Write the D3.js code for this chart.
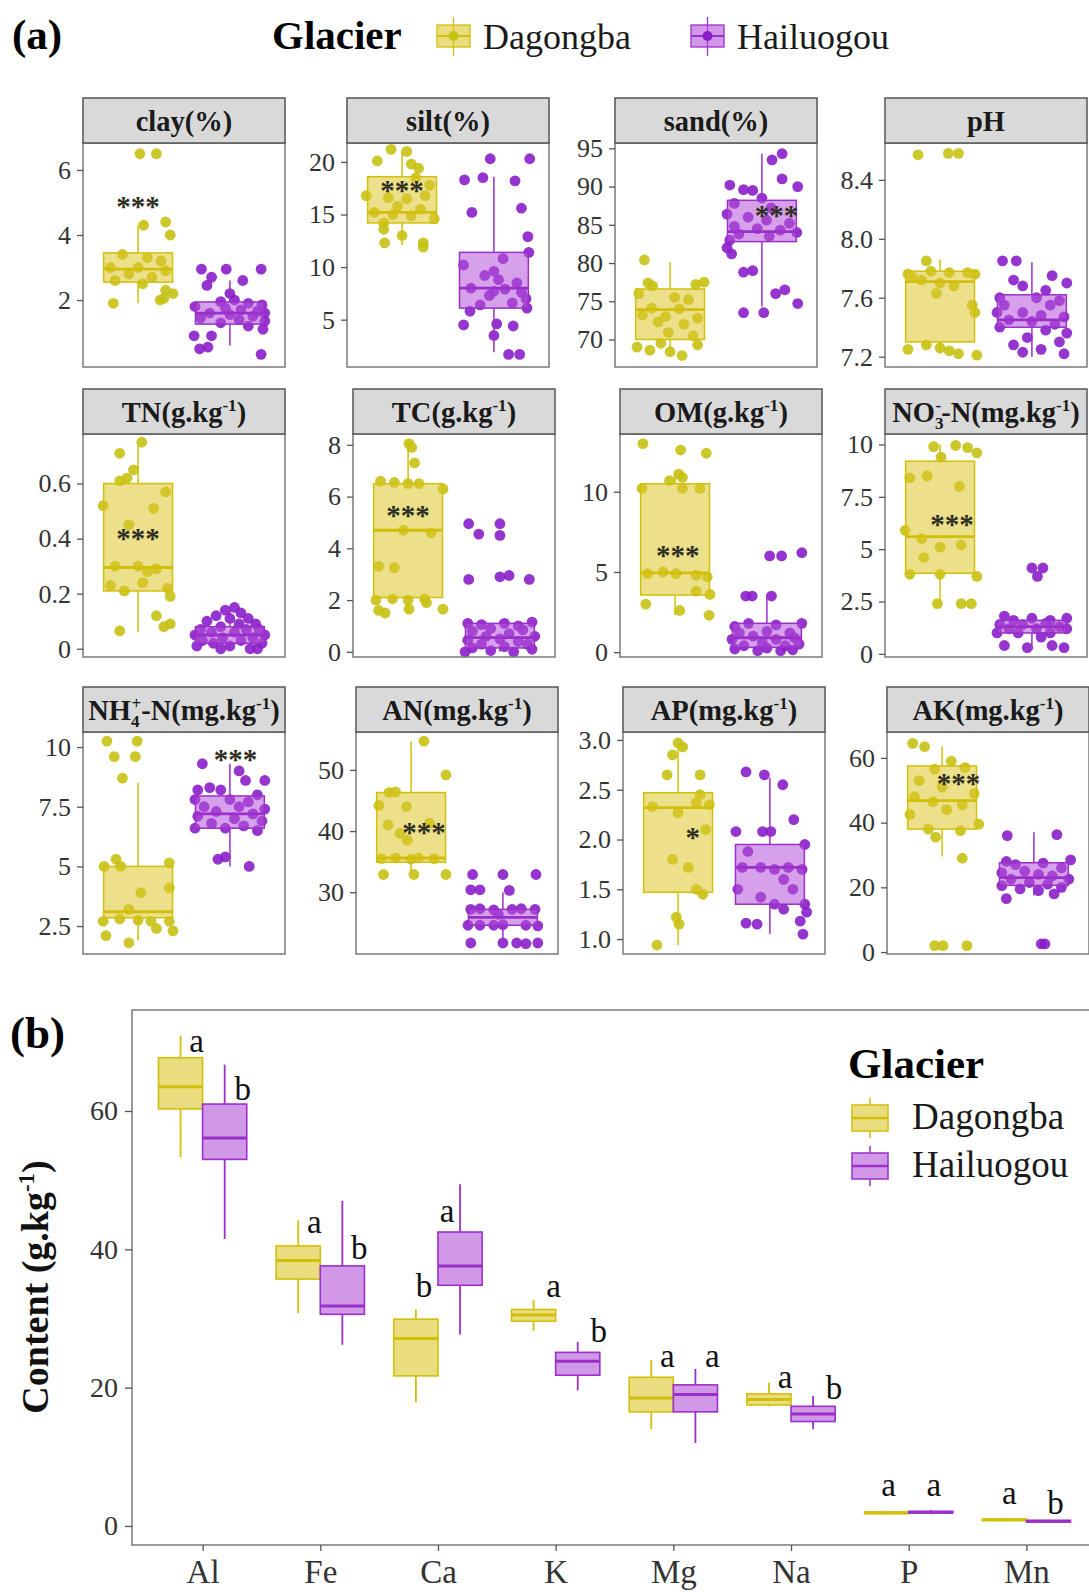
<!DOCTYPE html>
<html>
<head>
<meta charset="utf-8">
<script src="https://cdnjs.cloudflare.com/ajax/libs/d3/7.8.5/d3.min.js"></script>
<style>
  body { margin: 0; background: #fff; }
  svg { display: block; font-family: "Liberation Serif", "DejaVu Serif", serif; }
</style>
</head>
<body>
<svg id="chart" width="1089" height="1595"></svg>
<script>
(function () {
  /* -- DATA: part (a) --------------------------------------------- */
  var GROUPS = ['Dagongba', 'Hailuogou'];

  var stripTitles = [
    [['clay(%)']], [['silt(%)']], [['sand(%)']], [['pH']],
    [['TN(g.kg'], ['-1', 'sup'], [')']],
    [['TC(g.kg'], ['-1', 'sup'], [')']],
    [['OM(g.kg'], ['-1', 'sup'], [')']],
    [['NO'], ['3', 'sub'], ['-', 'sup', -8], ['-N(mg.kg'], ['-1', 'sup'], [')']],
    [['NH'], ['4', 'sub'], ['+', 'sup', -8], ['-N(mg.kg'], ['-1', 'sup'], [')']],
    [['AN(mg.kg'], ['-1', 'sup'], [')']],
    [['AP(mg.kg'], ['-1', 'sup'], [')']],
    [['AK(mg.kg'], ['-1', 'sup'], [')']]
  ];

  var yTicks = [
    [2, 4, 6], [5, 10, 15, 20], [70, 75, 80, 85, 90, 95], [7.2, 7.6, 8.0, 8.4],
    [0, 0.2, 0.4, 0.6], [0, 2, 4, 6, 8], [0, 5, 10], [0, 2.5, 5, 7.5, 10],
    [2.5, 5, 7.5, 10], [30, 40, 50], [1.0, 1.5, 2.0, 2.5, 3.0], [0, 20, 40, 60]
  ];
  var yDomains = [
    [-0.06, 6.83], [0.5, 21.8], [66.4, 95.7], [7.13, 8.65],
    [-0.03, 0.78], [-0.2, 8.42], [-0.3, 13.6], [-0.15, 10.5],
    [1.33, 10.63], [19.9, 56.2], [0.85, 3.08], [-0.6, 68]
  ];

  // box stats: [lower whisker, q1, median, q3, upper whisker]
  var boxDag = [
    [1.9, 2.55, 2.95, 3.45, 4.3], [12.1, 14.2, 15.2, 18.6, 21.1], [68.3, 70.0, 73.9, 76.6, 80.1], [7.22, 7.30, 7.71, 7.78, 7.86],
    [0.06, 0.21, 0.295, 0.60, 0.74], [1.5, 2.1, 4.7, 6.5, 8.1], [2.3, 3.56, 4.94, 10.5, 11.3], [2.4, 3.85, 5.6, 9.2, 10.0],
    [1.9, 2.85, 3.1, 5.0, 8.5], [33, 34.9, 35.6, 46.3, 54.7], [0.94, 1.47, 2.32, 2.47, 2.95], [29.5, 38, 46.8, 57.5, 63.6]
  ];
  var boxHai = [
    [0.6, 1.26, 1.6, 1.94, 2.6], [1.9, 6.1, 8.0, 11.4, 18.6], [74.3, 82.8, 84.1, 88.2, 94.3], [7.2, 7.40, 7.45, 7.62, 7.84],
    [0.0, 0.02, 0.05, 0.08, 0.15], [0.0, 0.15, 0.55, 1.1, 1.2], [0.1, 0.3, 0.9, 1.8, 3.6], [0.2, 1.0, 1.3, 1.6, 1.8],
    [5.0, 6.6, 7.2, 7.95, 9.3], [21.6, 24.6, 25.9, 27.2, 30], [1.05, 1.35, 1.72, 1.95, 2.62], [17.5, 20.6, 23, 27.6, 37]
  ];

  // jittered points: [offset from group centre, value]
  var clayDag = [[0.02,6.5],[0.2,6.5],[0.06,4.3],[0.3,4.4],[0.35,4.0],[-0.17,3.4],[0.1,3.3],[0.25,3.2],[-0.3,3.0],[0.0,3.0],[0.3,2.9],[-0.1,2.8],[0.15,2.7],[-0.25,2.6],[0.05,2.5],[0.3,2.3],[0.38,2.2],[0.28,2.05],[0.24,2.0],[-0.27,1.9]];
  var clayHai = [[-0.31,2.95],[-0.04,2.95],[0.34,2.95],[-0.2,2.7],[0.14,2.6],[-0.25,2.45],[0.0,2.2],[0.05,2.0],[-0.1,1.95],[0.2,1.9],[0.35,1.85],[-0.38,1.8],[-0.05,1.75],[0.12,1.7],[0.3,1.65],[-0.22,1.6],[0.0,1.55],[0.25,1.5],[-0.32,1.45],[0.1,1.4],[0.38,1.35],[-0.1,1.3],[0.2,1.2],[0.36,1.1],[-0.39,0.9],[-0.2,0.9],[-0.33,0.5],[-0.24,0.55],[0.34,0.33],[0.38,1.6]];
  var siltDag = [[-0.27,20.1],[-0.12,21.2],[0.05,21.0],[0.18,19.4],[0.1,19.8],[0.15,18.5],[0.3,17.8],[-0.39,16.8],[-0.15,16.6],[0.05,16.5],[0.25,16.8],[-0.05,15.8],[0.2,15.5],[-0.3,15.2],[-0.1,15.0],[0.1,14.9],[0.35,14.6],[-0.2,14.2],[-0.2,13.6],[-0.19,12.3],[0.23,12.3],[0.23,11.9],[0.0,13.0]];
  var siltHai = [[-0.04,20.3],[0.39,20.3],[-0.32,18.3],[-0.12,18.5],[0.23,18.2],[-0.24,15.2],[0.3,15.6],[0.37,12.9],[0.38,11.4],[0.1,10.8],[-0.33,10.2],[0.0,9.6],[-0.1,9.2],[0.05,8.8],[0.25,8.5],[-0.25,8.0],[0.12,7.9],[0.3,7.6],[-0.05,7.3],[0.35,7.0],[0.2,6.6],[-0.15,6.4],[0.36,6.1],[-0.26,5.8],[-0.33,4.5],[0.03,4.6],[0.21,4.4],[0.0,3.5],[0.16,1.7],[0.28,1.7],[0.0,7.7]];
  var sandDag = [[-0.28,80.4],[-0.24,77.4],[-0.19,77.0],[0.28,77.2],[0.37,77.5],[-0.34,76.0],[0.05,75.5],[0.2,75.2],[-0.2,74.1],[0.1,74.0],[-0.3,73.2],[-0.05,73.0],[0.3,72.8],[-0.13,72.3],[0.15,72.0],[-0.02,70.9],[0.25,70.5],[-0.36,69.0],[-0.22,68.6],[0.0,68.4],[0.13,67.9],[0.3,69.3],[-0.1,69.5]];
  var sandHai = [[0.22,94.3],[0.11,93.5],[0.22,91.0],[0.39,90.0],[-0.35,90.2],[-0.2,89.6],[-0.1,89.5],[0.0,88.5],[-0.3,87.8],[0.1,87.2],[-0.38,86.4],[-0.15,86.0],[0.05,85.6],[0.3,85.2],[-0.3,84.8],[-0.05,84.5],[0.2,84.3],[0.38,84.0],[-0.25,83.8],[0.08,83.5],[-0.35,83.0],[-0.38,82.0],[-0.33,81.2],[-0.2,78.8],[-0.1,79.0],[0.15,76.0],[0.25,76.5],[0.39,74.7],[-0.2,73.5],[0.02,73.5]];
  var pHDag = [[-0.24,8.57],[0.09,8.58],[0.2,8.58],[-0.15,7.85],[-0.35,7.76],[-0.3,7.74],[-0.1,7.78],[0.1,7.77],[0.3,7.77],[0.38,7.76],[-0.2,7.72],[0.0,7.70],[0.15,7.68],[-0.04,7.63],[0.35,7.55],[0.38,7.50],[-0.35,7.25],[0.0,7.26],[0.1,7.24],[0.2,7.22],[0.4,7.21],[-0.15,7.28]];
  var pHHai = [[-0.32,7.85],[-0.17,7.85],[0.22,7.75],[0.38,7.70],[-0.2,7.72],[-0.1,7.68],[0.15,7.65],[-0.35,7.60],[0.05,7.6],[0.3,7.58],[-0.3,7.55],[0.2,7.55],[-0.38,7.5],[-0.1,7.5],[0.1,7.48],[0.35,7.47],[-0.25,7.45],[0.0,7.44],[0.25,7.42],[-0.35,7.4],[0.15,7.38],[0.38,7.36],[-0.05,7.33],[0.3,7.3],[-0.2,7.28],[0.1,7.25],[0.35,7.22],[-0.1,7.23]];
  var TNDag = [[-0.2,0.71],[0.04,0.75],[-0.05,0.65],[-0.2,0.61],[-0.12,0.62],[0.3,0.57],[-0.38,0.52],[0.17,0.51],[-0.1,0.45],[0.0,0.30],[0.2,0.29],[-0.25,0.30],[0.1,0.28],[-0.3,0.23],[-0.15,0.21],[0.32,0.22],[0.35,0.19],[0.05,0.24],[0.2,0.12],[0.35,0.09],[0.28,0.08],[-0.2,0.065]];
  var TNHai = [[0.05,0.15],[-0.05,0.14],[0.12,0.13],[-0.15,0.12],[0.2,0.11],[0.0,0.11],[-0.25,0.1],[0.28,0.09],[0.1,0.09],[-0.1,0.08],[-0.32,0.07],[0.32,0.07],[0.18,0.07],[-0.2,0.06],[0.05,0.06],[0.38,0.05],[-0.38,0.05],[-0.08,0.04],[0.25,0.04],[-0.3,0.03],[0.12,0.03],[0.35,0.02],[-0.18,0.02],[0.0,0.01],[-0.36,0.01],[0.22,0.0],[-0.1,0.0],[0.3,0.0]];
  var TCDag = [[0.01,8.05],[0.04,7.9],[0.07,7.3],[-0.3,6.6],[-0.15,6.55],[0.0,6.5],[0.12,6.5],[0.38,6.3],[-0.05,4.7],[0.25,4.6],[-0.32,3.3],[-0.15,3.25],[-0.35,2.0],[-0.17,2.05],[0.0,2.0],[0.18,2.05],[-0.32,1.6],[0.01,1.65],[0.38,1.65],[-0.25,1.5],[0.2,1.9]];
  var TCHai = [[-0.34,4.95],[-0.23,4.55],[0.0,4.95],[0.0,4.5],[-0.34,2.8],[0.0,2.9],[0.1,2.95],[0.32,2.8],[-0.35,1.1],[-0.2,1.05],[0.05,1.1],[0.2,1.0],[0.35,1.15],[-0.1,0.9],[0.25,0.85],[-0.3,0.8],[0.1,0.7],[-0.15,0.6],[0.38,0.6],[0.0,0.5],[-0.35,0.45],[0.2,0.4],[-0.2,0.3],[0.3,0.3],[0.05,0.2],[-0.3,0.15],[0.35,0.1],[-0.1,0.05],[0.15,0.0],[-0.38,0.0]];
  var OMDag = [[-0.35,13.0],[0.06,12.6],[0.34,12.4],[0.04,11.1],[-0.06,10.7],[0.08,10.9],[-0.36,10.2],[0.08,10.2],[0.27,10.2],[-0.3,4.9],[-0.13,5.0],[0.01,4.9],[0.23,4.8],[0.35,4.7],[0.23,3.8],[0.38,3.6],[-0.32,3.0],[0.05,2.6],[0.37,2.3]];
  var OMHai = [[0.03,6.0],[0.16,6.0],[0.38,6.2],[-0.23,3.5],[-0.16,3.5],[0.05,3.5],[-0.35,1.6],[-0.2,1.8],[0.1,1.7],[0.38,1.8],[-0.3,1.2],[0.0,1.3],[0.25,1.2],[-0.15,1.0],[0.3,0.9],[-0.38,0.8],[0.1,0.8],[-0.05,0.6],[0.35,0.5],[-0.25,0.4],[0.2,0.4],[0.0,0.25],[-0.35,0.2],[0.28,0.15],[-0.1,0.1],[0.15,0.1]];
  var NO3Dag = [[-0.07,9.9],[0.17,9.95],[0.3,9.85],[0.4,9.6],[0.01,9.4],[-0.33,8.4],[-0.14,8.5],[0.21,8.0],[-0.38,5.9],[-0.2,5.5],[0.0,5.1],[0.23,5.2],[-0.18,4.6],[-0.33,3.8],[0.4,3.7],[0.0,3.8],[-0.03,2.4],[0.23,2.4],[0.34,2.4]];
  var NO3Hai = [[0.0,4.1],[0.12,4.1],[0.06,3.7],[-0.3,1.8],[-0.2,1.6],[0.0,1.7],[0.2,1.6],[0.38,1.7],[-0.35,1.4],[-0.1,1.4],[0.15,1.45],[0.3,1.3],[-0.25,1.2],[0.05,1.2],[0.38,1.2],[-0.38,1.0],[-0.15,1.0],[0.2,1.0],[0.1,0.8],[-0.3,0.4],[-0.05,0.3],[0.22,0.4],[0.35,0.3]];
  var NH4Dag = [[-0.34,10.25],[-0.01,10.25],[-0.26,9.6],[-0.03,9.6],[-0.17,8.7],[-0.24,5.3],[0.34,5.15],[-0.37,5.0],[-0.19,5.0],[0.34,4.1],[0.03,3.9],[-0.1,3.2],[-0.38,2.7],[-0.2,2.8],[0.0,2.75],[0.14,2.7],[0.34,2.7],[0.38,2.3],[0.2,2.4],[-0.35,2.1],[-0.1,1.8]];
  var NH4Hai = [[-0.3,9.3],[0.1,9.0],[0.17,8.6],[0.38,8.6],[-0.35,8.2],[-0.22,8.3],[-0.1,8.2],[0.3,8.0],[-0.38,7.8],[0.0,7.8],[0.2,7.7],[-0.28,7.5],[0.1,7.5],[0.38,7.4],[-0.15,7.3],[0.25,7.2],[-0.35,7.1],[0.05,7.0],[0.35,6.9],[-0.2,6.8],[0.15,6.7],[-0.05,6.6],[0.3,6.5],[-0.38,6.6],[-0.13,5.3],[-0.05,5.4],[0.21,5.0]];
  var ANDag = [[0.14,54.7],[0.38,49.2],[-0.24,46.3],[-0.17,46.4],[-0.35,44.2],[-0.05,44.0],[-0.25,41.0],[-0.12,39.6],[0.2,41.3],[-0.04,38.5],[-0.32,35.5],[-0.17,35.6],[0.0,35.4],[0.08,35.6],[0.25,35.5],[-0.3,32.9],[0.03,32.9],[0.38,32.9]];
  var ANHai = [[-0.33,32.9],[0.0,32.9],[0.36,32.9],[-0.35,30.4],[-0.25,30.4],[0.07,30.3],[-0.35,27.2],[-0.25,27.3],[-0.1,27.1],[0.1,27.2],[0.2,27.3],[0.35,27.2],[-0.05,26.4],[-0.38,24.6],[-0.25,24.6],[-0.1,24.6],[0.0,24.7],[0.25,24.6],[0.38,24.5],[-0.35,21.7],[0.0,21.7],[0.15,21.7],[0.25,21.6],[0.38,21.7]];
  var APDag = [[0.0,2.97],[0.05,2.93],[-0.06,2.85],[-0.12,2.65],[0.24,2.65],[0.24,2.45],[-0.28,2.33],[0.0,2.27],[0.2,2.37],[0.34,2.35],[-0.06,1.8],[0.11,1.72],[0.2,1.5],[0.27,1.45],[-0.02,1.22],[0.01,1.15],[-0.23,0.94],[0.3,2.1]];
  var APHai = [[-0.26,2.68],[-0.06,2.65],[0.14,2.55],[0.26,2.2],[-0.37,2.08],[-0.08,2.08],[0.01,2.08],[0.38,1.95],[-0.24,1.88],[-0.3,1.72],[-0.1,1.72],[0.05,1.7],[0.2,1.72],[0.35,1.7],[0.15,1.6],[-0.35,1.5],[0.25,1.5],[-0.1,1.42],[0.05,1.35],[0.38,1.35],[0.15,1.3],[0.4,1.27],[-0.26,1.16],[-0.14,1.15],[0.33,1.18],[0.36,1.05]];
  var AKDag = [[-0.32,64.5],[-0.19,63.5],[0.1,59.0],[-0.08,56.5],[0.25,57.0],[-0.25,53.0],[0.0,51.0],[0.35,49.0],[-0.3,48.0],[-0.1,46.5],[0.22,45.5],[0.05,44.0],[-0.35,42.5],[0.4,39.5],[-0.15,38.0],[-0.07,35.5],[0.2,37.5],[0.22,29.0],[-0.08,2.0],[0.01,2.0],[0.27,2.0]];
  var AKHai = [[-0.29,36.0],[0.25,36.3],[0.4,28.5],[-0.3,28.0],[-0.2,27.0],[0.1,27.5],[0.3,26.0],[-0.35,24.5],[-0.1,25.0],[0.05,24.0],[0.2,23.5],[-0.25,22.5],[0.38,22.5],[-0.05,21.5],[0.15,21.0],[-0.35,20.5],[0.3,20.0],[-0.15,19.5],[0.05,19.0],[0.22,18.0],[-0.3,16.5],[0.12,2.5],[0.08,2.5]];

  var pointsDag = [clayDag, siltDag, sandDag, pHDag, TNDag, TCDag, OMDag, NO3Dag, NH4Dag, ANDag, APDag, AKDag];
  var pointsHai = [clayHai, siltHai, sandHai, pHHai, TNHai, TCHai, OMHai, NO3Hai, NH4Hai, ANHai, APHai, AKHai];

  // significance marks: label, x (1 = Dagongba, 2 = Hailuogou), value
  var starLabels = ['***', '***', '***', '', '***', '***', '***', '***', '***', '***', '*', '***'];
  var starX = [1, 1, 2.16, 1, 1, 1, 1.03, 1.13, 2.06, 1.14, 1.16, 1.18];
  var starY = [5.05, 17.8, 86.9, 0, 0.42, 5.48, 6.4, 6.44, 9.7, 40.7, 2.08, 53.8];

  /* -- DATA: part (b) --------------------------------------------- */
  var elements = ['Al', 'Fe', 'Ca', 'K', 'Mg', 'Na', 'P', 'Mn'];
  var elemDag = [
    [53.3, 60.3, 63.5, 67.7, 70.9], [30.8, 35.7, 38.4, 40.5, 44.2], [17.9, 21.7, 27.1, 29.9, 31.3], [28.2, 29.6, 30.5, 31.3, 32.7],
    [14.0, 16.5, 18.5, 21.5, 24.0], [17.3, 17.5, 18.3, 19.1, 20.7], [1.6, 1.8, 1.9, 2.0, 2.2], [0.7, 0.8, 0.9, 1.0, 1.1]
  ];
  var elemHai = [
    [41.5, 53.0, 56.1, 61.0, 66.7], [26.2, 30.6, 31.8, 37.6, 47.0], [27.7, 34.8, 37.6, 42.5, 49.4], [19.6, 21.8, 23.8, 25.1, 26.6],
    [12.0, 16.5, 19.0, 20.4, 22.7], [14.0, 15.1, 16.2, 17.3, 18.8], [1.7, 1.9, 2.0, 2.1, 2.3], [0.5, 0.6, 0.7, 0.8, 0.9]
  ];
  var lettersDag = ['a', 'a', 'b', 'a', 'a', 'a', 'a', 'a'];
  var lettersHai = ['b', 'b', 'a', 'b', 'a', 'b', 'a', 'b'];
  var letterYDag = [69.8, 43.6, 34.4, 34.4, 24.3, 21.2, 5.6, 4.5];
  var letterYHai = [62.9, 39.9, 45.2, 27.9, 24.3, 19.6, 5.6, 3.1];
  var letterDxDag = [16, 16, 8, 20, 16, 16, 2, 5];
  var letterDxHai = [18, 17, -13, 21, 17, 21, 3, 7];
  var elemTicks = [0, 20, 40, 60];

  /* -- STYLE / LAYOUT --------------------------------------------- */
  var FILL = { Dagongba: '#dcc72c', Hailuogou: '#b454d8' };
  var LINE = { Dagongba: '#d1bf0a', Hailuogou: '#9a2fc9' };
  var DOT = { Dagongba: '#c7c114', Hailuogou: '#8a1ec9' };

  var COL_LEFT = [[83, 347, 615, 885], [83, 353, 620, 885], [83, 356, 623, 887]];
  var ROW_TOP = [98, 389, 687];
  var ROW_BOTTOM = [367, 657, 954];
  var STRIP_H = 45;
  var PANEL_W = 202;
  var STRIP_FONT = 28.5;

  var svg = d3.select('#chart');
  svg.append('rect').attr('width', 1089).attr('height', 1595).attr('fill', '#fff');

  function richText(sel, parts, size) {
    var cur = 0;
    parts.forEach(function (p) {
      var shift = p[1] === 'sup' ? -0.38 * size : p[1] === 'sub' ? 0.28 * size : 0;
      var ts = sel.append('tspan').attr('dy', shift - cur).text(p[0]);
      if (p[1]) ts.attr('font-size', size * 0.6);
      if (p[2]) ts.attr('dx', p[2]);
      cur = shift;
    });
  }

  function styleAxis(ax, size) {
    ax.select('.domain').remove();
    ax.selectAll('.tick line').attr('stroke', '#555').attr('stroke-width', 1.3);
    ax.selectAll('.tick text').attr('fill', '#333').attr('font-size', size)
      .attr('font-family', '"Liberation Serif", serif');
  }

  /* -- PART (a) --------------------------------------------------- */
  svg.append('text').attr('x', 12).attr('y', 49).attr('font-size', 43).attr('font-weight', 'bold').text('(a)');
  svg.append('text').attr('x', 272).attr('y', 49).attr('font-size', 41).attr('font-weight', 'bold').text('Glacier');

  var topKeys = [437, 691];
  GROUPS.forEach(function (g, i) {
    var kx = topKeys[i], kg = svg.append('g');
    kg.append('line').attr('x1', kx + 16.5).attr('x2', kx + 16.5).attr('y1', 17).attr('y2', 56)
      .attr('stroke', LINE[g]).attr('stroke-width', 1.3);
    kg.append('rect').attr('x', kx).attr('y', 25).attr('width', 33).attr('height', 22)
      .attr('fill', FILL[g]).attr('fill-opacity', 0.6).attr('stroke', LINE[g]).attr('stroke-width', 1.3);
    kg.append('line').attr('x1', kx).attr('x2', kx + 33).attr('y1', 36).attr('y2', 36)
      .attr('stroke', LINE[g]).attr('stroke-width', 2);
    kg.append('circle').attr('cx', kx + 16.5).attr('cy', 36).attr('r', 5).attr('fill', DOT[g]);
    svg.append('text').attr('x', kx + 46).attr('y', 49).attr('font-size', 36).attr('fill', '#1a1a1a').text(g);
  });

  stripTitles.forEach(function (title, i) {
    var r = Math.floor(i / 4), c = i % 4;
    var left = COL_LEFT[r][c], top = ROW_TOP[r] + STRIP_H, bottom = ROW_BOTTOM[r];
    var x = d3.scaleLinear().domain([0.4, 2.6]).range([left, left + PANEL_W]);
    var y = d3.scaleLinear().domain(yDomains[i]).range([bottom, top]);
    var p = svg.append('g');

    p.append('rect').attr('x', left).attr('y', top).attr('width', PANEL_W).attr('height', bottom - top).attr('fill', '#fff');

    [pointsDag[i], pointsHai[i]].forEach(function (pts, gi) {
      var g = GROUPS[gi];
      p.append('g').selectAll('circle').data(pts).join('circle')
        .attr('cx', function (d) { return x(gi + 1 + d[0]); })
        .attr('cy', function (d) { return y(d[1]); })
        .attr('r', 5.4)
        .attr('fill', DOT[g])
        .attr('fill-opacity', 0.9);
    });

    [boxDag[i], boxHai[i]].forEach(function (b, gi) {
      var g = GROUPS[gi], cx = x(gi + 1);
      var bx = p.append('g');
      bx.append('line').attr('x1', cx).attr('x2', cx).attr('y1', y(b[0])).attr('y2', y(b[1]))
        .attr('stroke', LINE[g]).attr('stroke-width', 1.5);
      bx.append('line').attr('x1', cx).attr('x2', cx).attr('y1', y(b[3])).attr('y2', y(b[4]))
        .attr('stroke', LINE[g]).attr('stroke-width', 1.5);
      bx.append('rect').attr('x', x(gi + 1 - 0.375)).attr('y', y(b[3]))
        .attr('width', x(gi + 1.375) - x(gi + 1 - 0.375)).attr('height', y(b[1]) - y(b[3]))
        .attr('fill', FILL[g]).attr('fill-opacity', 0.55)
        .attr('stroke', LINE[g]).attr('stroke-width', 1.5);
      bx.append('line').attr('x1', x(gi + 1 - 0.375)).attr('x2', x(gi + 1.375))
        .attr('y1', y(b[2])).attr('y2', y(b[2]))
        .attr('stroke', LINE[g]).attr('stroke-width', 2.8);
    });

    if (starLabels[i]) {
      p.append('text').attr('x', x(starX[i])).attr('y', y(starY[i]) + 15)
        .attr('text-anchor', 'middle').attr('font-size', 29).attr('font-weight', 'bold').attr('fill', '#2e2e22')
        .text(starLabels[i]);
    }

    p.append('rect').attr('x', left).attr('y', top).attr('width', PANEL_W).attr('height', bottom - top)
      .attr('fill', 'none').attr('stroke', '#7a7a7a').attr('stroke-width', 1.5);
    p.append('rect').attr('x', left).attr('y', ROW_TOP[r]).attr('width', PANEL_W).attr('height', STRIP_H)
      .attr('fill', '#d9d9d9').attr('stroke', '#555').attr('stroke-width', 1.5);
    var st = p.append('text').attr('x', left + PANEL_W / 2).attr('y', ROW_TOP[r] + STRIP_H / 2 + 10)
      .attr('text-anchor', 'middle').attr('font-size', STRIP_FONT).attr('font-weight', 'bold').attr('fill', '#1a1a1a');
    richText(st, title, STRIP_FONT);

    var fmt = (i === 3 || i === 10) ? d3.format('.1f') : function (v) { return String(v); };
    var ax = p.append('g').attr('transform', 'translate(' + left + ',0)')
      .call(d3.axisLeft(y).tickValues(yTicks[i]).tickSize(6).tickPadding(6).tickFormat(fmt));
    styleAxis(ax, 26);
  });

  /* -- PART (b) --------------------------------------------------- */
  var B = { left: 132, right: 1097, top: 1010, bottom: 1545 };
  var xb = d3.scalePoint().domain(elements).range([B.left, B.right]).padding(0.6);
  var yb = d3.scaleLinear().domain([-2.75, 74.6]).range([B.bottom, B.top]);
  var half = xb.step() * 0.1875, bw = xb.step() * 0.375;

  svg.append('text').attr('x', 10).attr('y', 1048).attr('font-size', 45).attr('font-weight', 'bold').text('(b)');

  var pb = svg.append('g');
  pb.append('rect').attr('x', B.left).attr('y', B.top).attr('width', B.right - B.left).attr('height', B.bottom - B.top)
    .attr('fill', '#fff');

  elements.forEach(function (el, k) {
    [elemDag[k], elemHai[k]].forEach(function (b, gi) {
      var g = GROUPS[gi], cx = xb(el) + (gi === 0 ? -half : half);
      var bx = pb.append('g');
      bx.append('line').attr('x1', cx).attr('x2', cx).attr('y1', yb(b[0])).attr('y2', yb(b[4]))
        .attr('stroke', LINE[g]).attr('stroke-width', 1.8);
      bx.append('rect').attr('x', cx - bw / 2).attr('y', yb(b[3])).attr('width', bw)
        .attr('height', Math.max(yb(b[1]) - yb(b[3]), 1.5))
        .attr('fill', '#fff').attr('stroke', 'none');
      bx.append('rect').attr('x', cx - bw / 2).attr('y', yb(b[3])).attr('width', bw)
        .attr('height', Math.max(yb(b[1]) - yb(b[3]), 1.5))
        .attr('fill', FILL[g]).attr('fill-opacity', 0.6)
        .attr('stroke', LINE[g]).attr('stroke-width', 1.6);
      bx.append('line').attr('x1', cx - bw / 2).attr('x2', cx + bw / 2).attr('y1', yb(b[2])).attr('y2', yb(b[2]))
        .attr('stroke', LINE[g]).attr('stroke-width', 3);

      var lt = gi === 0 ? lettersDag[k] : lettersHai[k];
      var ly = gi === 0 ? letterYDag[k] : letterYHai[k];
      var ldx = gi === 0 ? letterDxDag[k] : letterDxHai[k];
      pb.append('text').attr('x', cx + ldx).attr('y', yb(ly) + 9)
        .attr('text-anchor', 'middle').attr('font-size', 33).attr('fill', '#111').text(lt);
    });
  });

  pb.append('rect').attr('x', B.left).attr('y', B.top).attr('width', B.right - B.left).attr('height', B.bottom - B.top)
    .attr('fill', 'none').attr('stroke', '#7a7a7a').attr('stroke-width', 1.5);

  var axY = pb.append('g').attr('transform', 'translate(' + B.left + ',0)')
    .call(d3.axisLeft(yb).tickValues(elemTicks).tickSize(7).tickPadding(7));
  styleAxis(axY, 28);
  var axX = pb.append('g').attr('transform', 'translate(0,' + B.bottom + ')')
    .call(d3.axisBottom(xb).tickSize(6).tickPadding(9));
  styleAxis(axX, 33);

  var yt = svg.append('text').attr('transform', 'translate(48,1287) rotate(-90)')
    .attr('text-anchor', 'middle').attr('font-size', 38).attr('font-weight', 'bold').attr('fill', '#111');
  richText(yt, [['Content (g.kg'], ['-1', 'sup'], [')']], 38);

  // legend (b)
  svg.append('text').attr('x', 848).attr('y', 1078).attr('font-size', 43).attr('font-weight', 'bold').text('Glacier');
  var keyTop = [1105, 1153];
  GROUPS.forEach(function (g, i) {
    var ky = keyTop[i], kx = 852;
    svg.append('line').attr('x1', kx + 18).attr('x2', kx + 18).attr('y1', ky - 7).attr('y2', ky + 33)
      .attr('stroke', LINE[g]).attr('stroke-width', 1.5);
    svg.append('rect').attr('x', kx).attr('y', ky).attr('width', 36).attr('height', 26)
      .attr('fill', '#fff');
    svg.append('rect').attr('x', kx).attr('y', ky).attr('width', 36).attr('height', 26)
      .attr('fill', FILL[g]).attr('fill-opacity', 0.6).attr('stroke', LINE[g]).attr('stroke-width', 1.5);
    svg.append('line').attr('x1', kx).attr('x2', kx + 36).attr('y1', ky + 13).attr('y2', ky + 13)
      .attr('stroke', LINE[g]).attr('stroke-width', 2.5);
    svg.append('text').attr('x', 912).attr('y', ky + 24).attr('font-size', 37).attr('fill', '#1a1a1a').text(g);
  });
})();
</script>
</body>
</html>
